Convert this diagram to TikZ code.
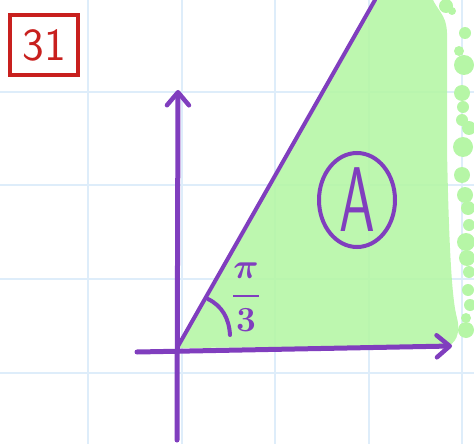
\documentclass[tikz,border=0pt]{standalone}
\usepackage{amsmath}
\usepackage{tikz}
\usetikzlibrary{shapes.geometric, arrows.meta, positioning, calc}

\definecolor{axispurple}{RGB}{128,62,190}
\definecolor{areagreen}{RGB}{182,246,166}
\definecolor{boxred}{RGB}{200,32,30}
\definecolor{gridblue}{RGB}{222,237,250}

\begin{document}
\begin{tikzpicture}[
    x=1pt, y=-1pt,
    gridline/.style={draw=gridblue, line width=2.5pt},
    axis/.style={draw=axispurple, line width=5pt, line cap=round,
        -{Straight Barb[length=13pt, width=22pt, line width=4.5pt, round]}},
    edge/.style={draw=axispurple, line width=4pt, line cap=round},
    numbox/.style={draw=boxred, line width=4pt, text=boxred, minimum width=68pt,
        minimum height=60pt, font=\sffamily\fontsize{46}{46}\selectfont, inner sep=0pt},
    region/.style={ellipse, draw=axispurple, line width=4pt, text=axispurple,
        minimum width=76pt, minimum height=94pt, inner sep=0pt,
        font=\sffamily\fontsize{92}{92}\selectfont},
    anglelabel/.style={text=axispurple, inner sep=0pt}
]
    \useasboundingbox (0,0) rectangle (474,444);

    % Grid
    \foreach \gx in {88,182,275,369,462}
        \draw [gridline] (\gx,0) -- (\gx,444);
    \foreach \gy in {92,185,279,373}
        \draw [gridline] (0,\gy) -- (474,\gy);

    % Points
    \coordinate (O) at (177,348);
    \coordinate (top) at (375,0);
    \coordinate (ytip) at (178,90);
    \coordinate (ybot) at (177,440);
    \coordinate (xleft) at (137,352);
    \coordinate (xtip) at (452,346);
    \coordinate (arcstart) at (208,299);
    \coordinate (arcend) at (230,335);

    % Shaded region
    \fill [areagreen, fill opacity=0.9] (O) -- (top) -- (433,0)
        .. controls (440,14) and (448,16) .. (447,40) -- (447,150)
        .. controls (449,250) and (452,300) .. (457,318)
        .. controls (461,334) and (455,345) .. (446,346) -- cycle;
    \fill [areagreen] (446,6) circle[radius=7];
    \fill [areagreen] (452,11) circle[radius=4];
    \foreach \cx/\cy/\r in {465/33/6, 459/51/5, 464/65/10, 462/93/8, 463/107/6,
        462/120/6, 469/128/7, 463/147/10, 462/175/8, 465/195/8, 468/208/7,
        469/225/6, 466/242/9, 467/258/8, 469/272/6, 468/290/6, 470/305/6,
        466/318/5, 466/330/8}
        \fill [areagreen] (\cx,\cy) circle[radius=\r];

    % Axes
    \draw [axis] (ybot) -- (ytip);
    \draw [axis] (xleft) -- (xtip);
    \draw [edge] (O) -- (top);

    % Angle
    \draw [edge] (arcstart) .. controls (222,306) and (229,318) .. (arcend);
    \node (angle) [anglelabel] at (246,297) {\scalebox{1.7}{\fontsize{20}{20}\selectfont\boldmath$\dfrac{\pi}{3}$}};

    % Labels
    \node (number) [numbox] at (44,45) {31};
    \node (area) [region] at (357,200) {\scalebox{0.62}[1]{A}};
\end{tikzpicture}
\end{document}
